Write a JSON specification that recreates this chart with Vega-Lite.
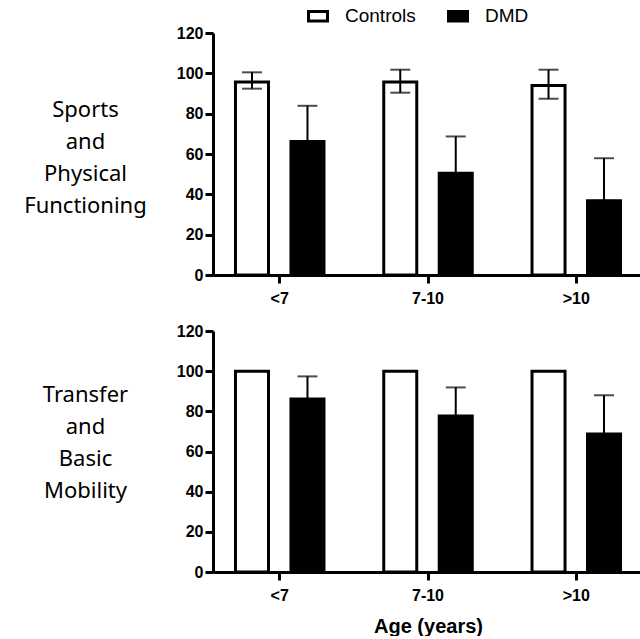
{
  "$schema": "https://vega.github.io/schema/vega-lite/v6.json",
  "padding": {"left": 23, "top": 5, "right": 0, "bottom": 0},
  "background": "white",
  "bounds": "flush",
  "spacing": 56,
  "data": {"values": [
    {"panel": "Sports", "age": "<7", "group": "Controls", "value": 95.7, "lo": 92.4, "hi": 100.5},
    {"panel": "Sports", "age": "<7", "group": "DMD", "value": 66.2, "lo": 66.2, "hi": 83.9},
    {"panel": "Sports", "age": "7-10", "group": "Controls", "value": 95.7, "lo": 90.4, "hi": 101.8},
    {"panel": "Sports", "age": "7-10", "group": "DMD", "value": 50.5, "lo": 50.5, "hi": 68.7},
    {"panel": "Sports", "age": ">10", "group": "Controls", "value": 94.0, "lo": 87.4, "hi": 101.8},
    {"panel": "Sports", "age": ">10", "group": "DMD", "value": 36.8, "lo": 36.8, "hi": 57.9},
    {"panel": "Transfer", "age": "<7", "group": "Controls", "value": 100, "lo": null, "hi": null},
    {"panel": "Transfer", "age": "<7", "group": "DMD", "value": 86.1, "lo": 86.1, "hi": 97.4},
    {"panel": "Transfer", "age": "7-10", "group": "Controls", "value": 100, "lo": null, "hi": null},
    {"panel": "Transfer", "age": "7-10", "group": "DMD", "value": 77.7, "lo": 77.7, "hi": 91.9},
    {"panel": "Transfer", "age": ">10", "group": "Controls", "value": 100, "lo": null, "hi": null},
    {"panel": "Transfer", "age": ">10", "group": "DMD", "value": 68.7, "lo": 68.7, "hi": 88.0}
  ]},
  "config": {
    "view": {"stroke": null},
    "font": "Liberation Sans",
    "axis": {
      "domainColor": "black", "domainWidth": 3, "tickColor": "black", "tickWidth": 3, "tickSize": 8,
      "labelColor": "black", "labelFont": "Liberation Sans", "labelFontWeight": "bold", "labelFontSize": 16,
      "grid": false, "titleColor": "black"
    }
  },
  "vconcat": [
    {
      "width": 430, "height": 242,
      "transform": [{"filter": "datum.panel === 'Sports'"}],
      "encoding": {
        "x": {"field": "age", "type": "nominal", "sort": ["<7", "7-10", ">10"],
              "scale": {"paddingInner": 0.1, "paddingOuter": 0},
              "axis": {"title": null, "labelAngle": 0, "labelPadding": 7}},
        "xOffset": {"field": "group", "type": "nominal", "scale": {"domain": ["Controls", "DMD"], "paddingInner": 0.405, "paddingOuter": 0.405}}
      },
      "layer": [
        {
          "mark": {"type": "bar", "stroke": "black", "strokeWidth": 3},
          "encoding": {
            "y": {"field": "value", "type": "quantitative", "scale": {"domain": [0, 120]},
                  "axis": {"values": [0, 20, 40, 60, 80, 100, 120], "labelPadding": 2,
                           "title": ["Sports", "and", "Physical", "Functioning"],
                           "titleAngle": 0, "titleX": -128, "titleY": 76, "titleAlign": "center", "titleBaseline": "middle",
                           "titleFont": "Noto Sans", "titleFontSize": 22, "titleFontWeight": "normal", "titleLineHeight": 32}},
            "fill": {"field": "group", "type": "nominal",
                     "scale": {"domain": ["Controls", "DMD"], "range": ["white", "black"]},
                     "legend": {"orient": "none", "legendX": 94, "legendY": -28, "direction": "horizontal", "title": null,
                                "symbolType": "M-1,-0.5H1V0.5H-1Z", "symbolSize": 361, "symbolStrokeColor": "black", "symbolStrokeWidth": 3,
                                "symbolOpacity": 1,
                                "labelFont": "Liberation Sans", "labelFontSize": 19, "labelColor": "black", "labelOffset": 16, "columnPadding": 26}}
          }
        },
        {
          "transform": [{"filter": "isValid(datum.hi)"}],
          "mark": {"type": "rule", "strokeWidth": 2, "color": "black"},
          "encoding": {"y": {"field": "lo", "type": "quantitative"}, "y2": {"field": "hi"}}
        },
        {
          "transform": [{"filter": "isValid(datum.hi)"}],
          "mark": {"type": "tick", "size": 20, "thickness": 2, "color": "black"},
          "encoding": {"y": {"field": "hi", "type": "quantitative"}}
        },
        {
          "transform": [{"filter": "isValid(datum.hi)"}],
          "mark": {"type": "tick", "size": 20, "thickness": 2, "color": "black"},
          "encoding": {"y": {"field": "lo", "type": "quantitative"}}
        }
      ]
    },
    {
      "width": 430, "height": 241,
      "transform": [{"filter": "datum.panel === 'Transfer'"}],
      "encoding": {
        "x": {"field": "age", "type": "nominal", "sort": ["<7", "7-10", ">10"],
              "scale": {"paddingInner": 0.1, "paddingOuter": 0},
              "axis": {"title": "Age (years)", "labelAngle": 0, "labelPadding": 7,
                       "titleFont": "Liberation Sans", "titleFontSize": 20, "titleFontWeight": "bold", "titlePadding": 13}},
        "xOffset": {"field": "group", "type": "nominal", "scale": {"domain": ["Controls", "DMD"], "paddingInner": 0.405, "paddingOuter": 0.405}}
      },
      "layer": [
        {
          "mark": {"type": "bar", "stroke": "black", "strokeWidth": 3},
          "encoding": {
            "y": {"field": "value", "type": "quantitative", "scale": {"domain": [0, 120]},
                  "axis": {"values": [0, 20, 40, 60, 80, 100, 120], "labelPadding": 2,
                           "title": ["Transfer", "and", "Basic", "Mobility"],
                           "titleAngle": 0, "titleX": -128, "titleY": 63, "titleAlign": "center", "titleBaseline": "middle",
                           "titleFont": "Noto Sans", "titleFontSize": 22, "titleFontWeight": "normal", "titleLineHeight": 32}},
            "fill": {"field": "group", "type": "nominal",
                     "scale": {"domain": ["Controls", "DMD"], "range": ["white", "black"]}, "legend": null}
          }
        },
        {
          "transform": [{"filter": "isValid(datum.hi)"}],
          "mark": {"type": "rule", "strokeWidth": 2, "color": "black"},
          "encoding": {"y": {"field": "lo", "type": "quantitative"}, "y2": {"field": "hi"}}
        },
        {
          "transform": [{"filter": "isValid(datum.hi)"}],
          "mark": {"type": "tick", "size": 20, "thickness": 2, "color": "black"},
          "encoding": {"y": {"field": "hi", "type": "quantitative"}}
        }
      ]
    }
  ]
}
